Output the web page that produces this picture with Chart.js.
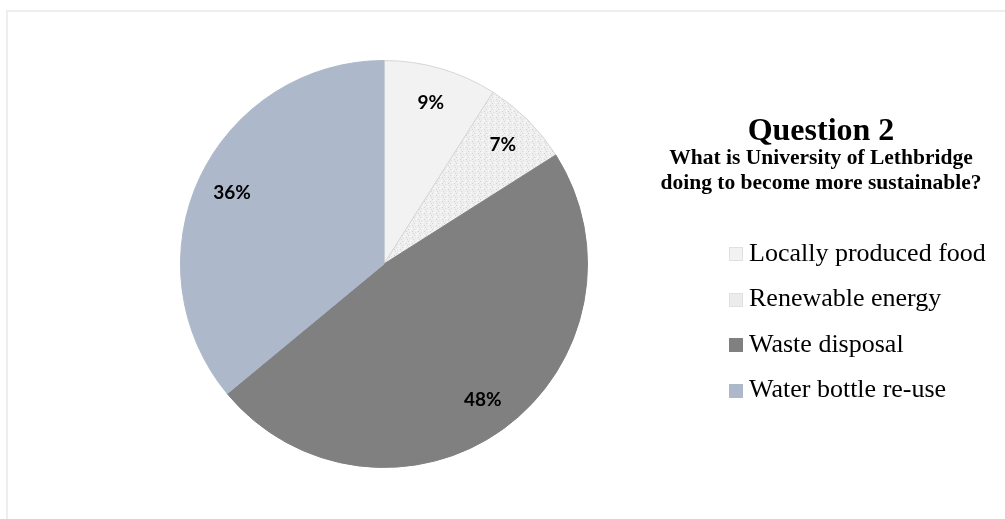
<!DOCTYPE html>
<html lang="en">
<head>
  <meta charset="UTF-8" />
  <title>Question 2</title>
  <script src="https://cdn.jsdelivr.net/npm/chart.js"></script>
  <style>
    body { margin: 0; background: #fff; }
    .wrap { position: relative; width: 1005px; height: 519px; overflow: hidden; }
    .frame {
      position: absolute; left: 6px; top: 10px; width: 1010px; height: 520px;
      border-left: 2px solid #eeeeee; border-top: 2px solid #eeeeee;
    }
    #pie { position: absolute; left: 0; top: 0; }
    .serif { font-family: "Liberation Serif", "Times New Roman", serif; color: #000; }
    .titulo { position: absolute; left: 640px; width: 362px; top: 113px; margin: 0;
      font-size: 32px; line-height: 32px; text-align: center; font-weight: bold; }
    .sub { position: absolute; left: 640px; width: 362px; top: 145px; margin: 0;
      font-size: 21.5px; line-height: 25px; text-align: center; font-weight: bold; }
    .legend { list-style: none; margin: 0; padding: 0; position: absolute; left: 729px; top: 230px; }
    .legend li { font-size: 26px; height: 45.5px; line-height: 30px; display: flex; align-items: center; white-space: nowrap; }
    .legend span.box { display: inline-block; width: 14px; height: 14px; margin-right: 6px; margin-top: 3px; box-sizing: border-box; }
  </style>
</head>
<body>
  <div class="wrap">
    <div class="frame"></div>
    <canvas id="pie" width="1005" height="519"></canvas>
    <h1 class="titulo serif">Question 2</h1>
    <h2 class="sub serif">What is University of Lethbridge<br>doing to become more sustainable?</h2>
    <ul class="legend serif" id="legend"></ul>
  </div>

<script>
const categorias = ['Locally produced food', 'Renewable energy', 'Waste disposal', 'Water bottle re-use'];
const porcentagens = [9, 7, 48, 36];
const cores = ['#f2f2f2', 'speckle', '#808080', '#adb9ca'];

// textura pontilhada para "Renewable energy"
function speckle() {
  const c = document.createElement('canvas');
  c.width = 6; c.height = 6;
  const g = c.getContext('2d');
  g.fillStyle = '#efefef';
  g.fillRect(0, 0, 6, 6);
  const pts = [[0,1,'#d4d4d4'],[3,0,'#fafafa'],[4,3,'#cfcfcf'],[1,4,'#e0e0e0'],[5,5,'#d8d8d8'],[2,2,'#fbfbfb']];
  pts.forEach(p => { g.fillStyle = p[2]; g.fillRect(p[0], p[1], 1, 1); });
  return g.createPattern(c, 'repeat');
}

const ctx = document.getElementById('pie');
const fundo = cores.map(c => c === 'speckle' ? speckle() : c);

const rotulos = {
  id: 'rotulos',
  afterDatasetsDraw(chart) {
    const c = chart.ctx;
    const arcs = chart.getDatasetMeta(0).data;
    c.save();
    c.font = 'bold 19px Lato, "Open Sans", sans-serif';
    c.fillStyle = '#000';
    c.textAlign = 'center';
    c.textBaseline = 'middle';
    arcs.forEach((a, i) => {
      const p = a.getProps(['x', 'y', 'startAngle', 'endAngle', 'outerRadius'], true);
      const m = (p.startAngle + p.endAngle) / 2;
      const r = p.outerRadius * 0.825;
      c.fillText(porcentagens[i] + '%', p.x + Math.cos(m) * r, p.y + Math.sin(m) * r);
    });
    c.restore();
  }
};

new Chart(ctx, {
  type: 'pie',
  data: {
    labels: categorias,
    datasets: [{
      data: porcentagens,
      backgroundColor: fundo,
      borderColor: ['#d6d6d6', '#d6d6d6', '#808080', '#adb9ca'],
      borderWidth: 1
    }]
  },
  options: {
    responsive: false,
    animation: false,
    layout: { padding: { left: 180, right: 417, top: 60, bottom: 51 } },
    plugins: { legend: { display: false }, tooltip: { enabled: false } }
  },
  plugins: [rotulos]
});

// legenda
const ul = document.getElementById('legend');
categorias.forEach((nome, i) => {
  const li = document.createElement('li');
  const box = document.createElement('span');
  box.className = 'box';
  box.style.background = cores[i] === 'speckle' ? '#ececec' : cores[i];
  if (i < 2) box.style.border = '1px solid #e0e0e0';
  li.appendChild(box);
  li.appendChild(document.createTextNode(nome));
  ul.appendChild(li);
});
</script>
</body>
</html>
